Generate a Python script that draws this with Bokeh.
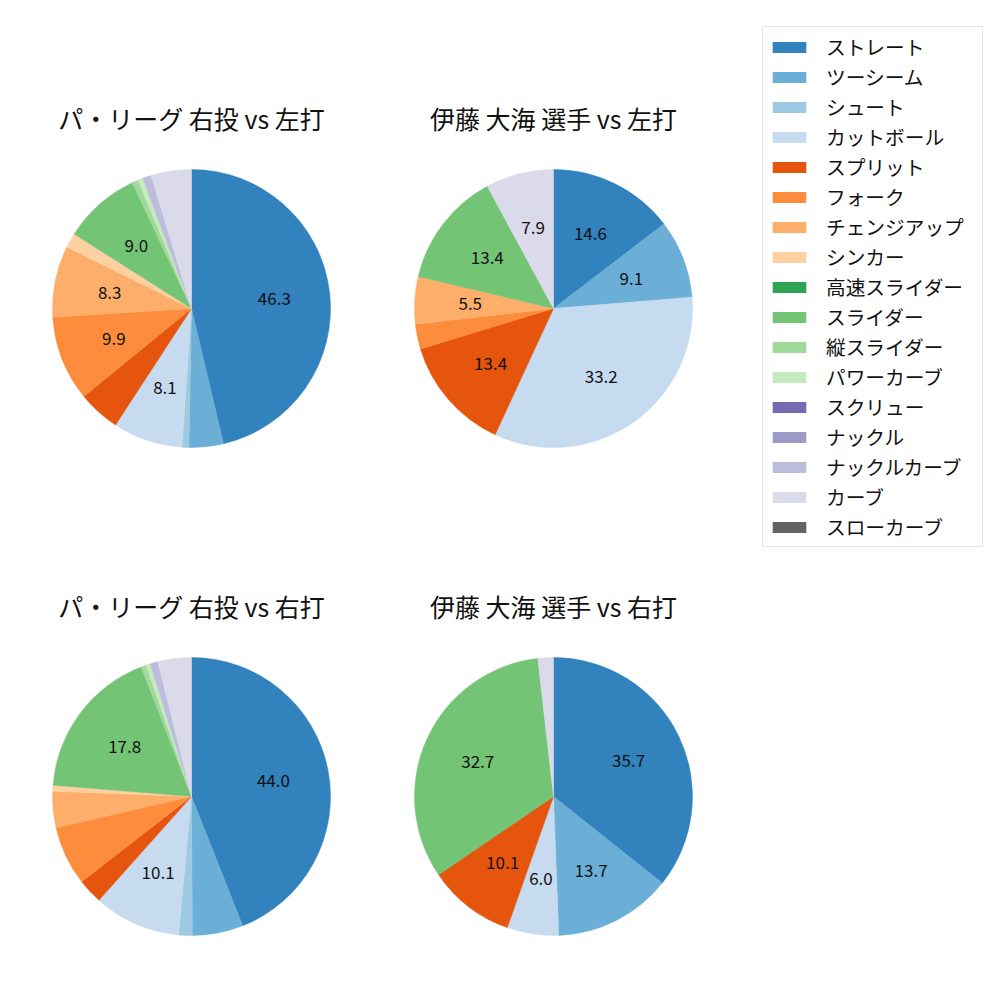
import math
from bokeh.plotting import figure
from bokeh.models import Range1d, Legend, LegendItem, ColumnDataSource
from bokeh.embed import file_html
from bokeh.resources import INLINE
from bokeh.core.properties import value

pitch_types = ["ストレート", "ツーシーム", "シュート", "カットボール", "スプリット", "フォーク",
               "チェンジアップ", "シンカー", "高速スライダー", "スライダー", "縦スライダー",
               "パワーカーブ", "スクリュー", "ナックル", "ナックルカーブ", "カーブ", "スローカーブ"]
colors = ["#3182bd", "#6baed6", "#9ecae1", "#c6dbef", "#e6550d", "#fd8d3c", "#fdae6b", "#fdd0a2",
          "#31a354", "#74c476", "#a1d99b", "#c7e9c0", "#756bb1", "#9e9ac8", "#bcbddc", "#dadaeb",
          "#636363"]

pl_vs_left = [46.3, 4.0, 0.8, 8.1, 4.9, 9.9, 8.3, 1.7, 0, 9.0, 0.7, 0.6, 0, 0, 1.0, 4.7, 0]
ito_vs_left = [14.6, 9.1, 0, 33.2, 13.4, 2.9, 5.5, 0, 0, 13.4, 0, 0, 0, 0, 0, 7.9, 0]
pl_vs_right = [44.0, 5.9, 1.6, 10.1, 2.9, 6.9, 4.2, 0.7, 0, 17.8, 0.6, 0.5, 0, 0, 0.9, 3.9, 0]
ito_vs_right = [35.7, 13.7, 0, 6.0, 10.1, 0, 0, 0, 0, 32.7, 0, 0, 0, 0, 0, 1.8, 0]

titles = ["パ・リーグ 右投 vs 左打", "伊藤 大海 選手 vs 左打", "パ・リーグ 右投 vs 右打", "伊藤 大海 選手 vs 右打"]
series = [pl_vs_left, ito_vs_left, pl_vs_right, ito_vs_right]
label_min = [5.0, 5.0, 7.0, 5.0]

# layout (pixels from top-left of page)
centers = [(191, 308), (553, 308), (191, 796), (553, 796)]
radius = 139
title_dy = 191

FONT = "Noto Sans CJK JP"
H = 1000

p = figure(width=1000, height=1000, x_range=Range1d(0, 1000), y_range=Range1d(0, 1000),
           output_backend="svg", toolbar_location=None, min_border=0,
           x_axis_type=None, y_axis_type=None)
p.xgrid.visible = False
p.ygrid.visible = False
p.outline_line_color = None
p.background_fill_color = "white"

for vals, title, (cx, cy), lmin in zip(series, titles, centers, label_min):
    total = sum(vals)
    xs, ys, starts, ends, cols = [], [], [], [], []
    lx, ly, lt = [], [], []
    c0 = 0.0
    for v, col in zip(vals, colors):
        if v <= 0:
            continue
        c1 = c0 + v / total
        a0 = math.radians(90 - 360 * c0)
        a1 = math.radians(90 - 360 * c1)
        xs.append(cx)
        ys.append(H - cy)
        starts.append(a1)
        ends.append(a0)
        cols.append(col)
        if v >= lmin:
            am = (a0 + a1) / 2
            lx.append(cx + 0.6 * radius * math.cos(am))
            ly.append(H - cy + 0.6 * radius * math.sin(am))
            lt.append(f"{v:.1f}")
        c0 = c1
    src = ColumnDataSource(dict(x=xs, y=ys, s=starts, e=ends, c=cols))
    p.wedge(x="x", y="y", radius=radius, start_angle="s", end_angle="e", fill_color="c",
            line_color="c", line_width=0.5, source=src)
    p.text(x=lx, y=ly, text=lt, text_align="center", text_baseline="middle",
           text_font=value(FONT), text_font_size="17px", text_color="#111111")
    p.text(x=[cx], y=[H - cy + title_dy], text=[title], text_align="center",
           text_baseline="middle", text_font=value(FONT), text_font_size="25px",
           text_color="#111111")

nan = float("nan")
items = []
for name, col in zip(pitch_types, colors):
    r = p.quad(left=[nan], right=[nan], top=[nan], bottom=[nan], fill_color=col, line_color=None)
    items.append(LegendItem(label=value(name), renderers=[r]))

legend = Legend(items=items, location=(762, 453), glyph_width=42, glyph_height=14,
                label_standoff=16, label_text_font=FONT, label_text_font_size="19.7px",
                label_height=24, label_width=151, spacing=1, padding=5, margin=0,
                border_line_color="#cccccc", border_line_width=1,
                background_fill_color="white", background_fill_alpha=1.0,
                label_text_color="#111111")
p.add_layout(legend)

open("out.html", "w").write(file_html(p, INLINE))
